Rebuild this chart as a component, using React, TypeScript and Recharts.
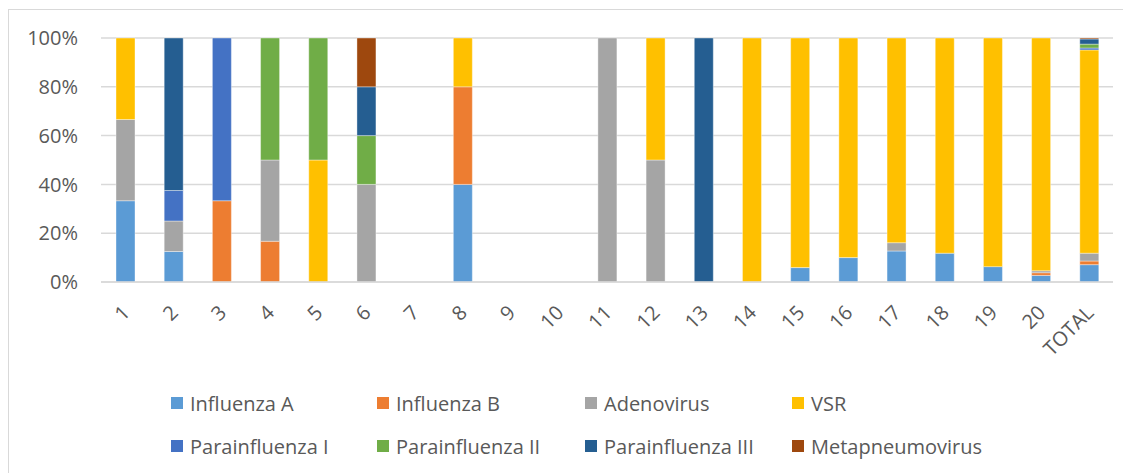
import { BarChart, Bar, XAxis, YAxis, CartesianGrid } from 'recharts';

const categories = ['1', '2', '3', '4', '5', '6', '7', '8', '9', '10', '11', '12', '13', '14', '15', '16', '17', '18', '19', '20', 'TOTAL'];

// percentages per category
const influenzaA = [33.3, 12.5, 0, 0, 0, 0, 0, 40, 0, 0, 0, 0, 0, 0, 5.9, 10, 12.7, 11.8, 6.3, 2.7, 7.1];
const influenzaB = [0, 0, 33.3, 16.7, 0, 0, 0, 40, 0, 0, 0, 0, 0, 0, 0, 0, 0, 0, 0, 1.1, 1.5];
const adenovirus = [33.3, 12.5, 0, 33.3, 0, 40, 0, 0, 0, 0, 100, 50, 0, 0, 0, 0, 3.4, 0, 0, 0.8, 3.2];
const vsr = [33.4, 0, 0, 0, 50, 0, 0, 20, 0, 0, 0, 50, 0, 100, 94.1, 90, 83.9, 88.2, 93.7, 95.4, 83.3];
const parainfluenzaI = [0, 12.5, 66.7, 0, 0, 0, 0, 0, 0, 0, 0, 0, 0, 0, 0, 0, 0, 0, 0, 0, 0.8];
const parainfluenzaII = [0, 0, 0, 50, 50, 20, 0, 0, 0, 0, 0, 0, 0, 0, 0, 0, 0, 0, 0, 0, 1.6];
const parainfluenzaIII = [0, 62.5, 0, 0, 0, 20, 0, 0, 0, 0, 0, 0, 100, 0, 0, 0, 0, 0, 0, 0, 2.1];
const metapneumovirus = [0, 0, 0, 0, 0, 20, 0, 0, 0, 0, 0, 0, 0, 0, 0, 0, 0, 0, 0, 0, 0.4];

const yTicks = [0, 20, 40, 60, 80, 100];

const series = [
  { key: 'infA', name: 'Influenza A', color: '#5B9BD5', values: influenzaA },
  { key: 'infB', name: 'Influenza B', color: '#ED7D31', values: influenzaB },
  { key: 'adeno', name: 'Adenovirus', color: '#A5A5A5', values: adenovirus },
  { key: 'vsr', name: 'VSR', color: '#FFC000', values: vsr },
  { key: 'para1', name: 'Parainfluenza I', color: '#4472C4', values: parainfluenzaI },
  { key: 'para2', name: 'Parainfluenza II', color: '#70AD47', values: parainfluenzaII },
  { key: 'para3', name: 'Parainfluenza III', color: '#255E91', values: parainfluenzaIII },
  { key: 'meta', name: 'Metapneumovirus', color: '#9E480E', values: metapneumovirus },
];

const data = categories.map((label, i) => {
  const row: Record<string, string | number> = { label };
  series.forEach((s) => {
    row[s.key] = s.values[i];
  });
  return row;
});

const FONT = '"Open Sans", "Noto Sans", sans-serif';
const TEXT = '#595959';

function XTick({ x, y, payload }: any) {
  return (
    <text
      x={x + 6}
      y={y + 32}
      transform={`rotate(-45 ${x + 6} ${y + 32})`}
      textAnchor="end"
      fill={TEXT}
      fontSize={20}
      fontFamily={FONT}
    >
      {payload.value}
    </text>
  );
}

const legendCols = [162, 368, 576, 783];
const legendRows = [380, 423];

export default function App() {
  return (
    <div
      style={{
        position: 'relative',
        top: 1,
        width: 1122,
        height: 464,
        borderLeft: '1px solid #d9d9d9',
        borderTop: '1px solid #d9d9d9',
        background: '#fff',
        fontFamily: FONT,
      }}
    >
      <BarChart
        width={1122}
        height={464}
        data={data}
        margin={{ top: 28, right: 18, left: 0, bottom: 132 }}
        barSize={19}
      >
        <CartesianGrid vertical={false} stroke="#d9d9d9" strokeWidth={1.5} />
        <XAxis
          dataKey="label"
          axisLine={{ stroke: '#d9d9d9', strokeWidth: 1.5 }}
          tickLine={false}
          tickSize={0}
          tickMargin={0}
          interval={0}
          height={60}
          tick={<XTick />}
        />
        <YAxis
          domain={[0, 100]}
          ticks={yTicks}
          axisLine={false}
          tickLine={false}
          tickSize={0}
          tickMargin={23}
          width={92}
          tickFormatter={(v) => `${v}%`}
          tick={{ fill: TEXT, fontSize: 20, fontFamily: FONT }}
        />
        {series.map((s) => (
          <Bar
            key={s.key}
            dataKey={s.key}
            name={s.name}
            stackId="a"
            fill={s.color}
            stroke="#ffffff"
            strokeOpacity={0.5}
            strokeWidth={0.75}
            isAnimationActive={false}
          />
        ))}
      </BarChart>
      {series.map((s, i) => (
        <div
          key={s.key}
          style={{
            position: 'absolute',
            left: legendCols[i % 4],
            top: legendRows[Math.floor(i / 4)],
            height: 26,
            display: 'flex',
            alignItems: 'center',
            whiteSpace: 'nowrap',
            color: TEXT,
            fontSize: 20,
          }}
        >
          <span style={{ width: 12, height: 12, background: s.color, display: 'inline-block', marginRight: 7 }} />
          {s.name}
        </div>
      ))}
    </div>
  );
}
